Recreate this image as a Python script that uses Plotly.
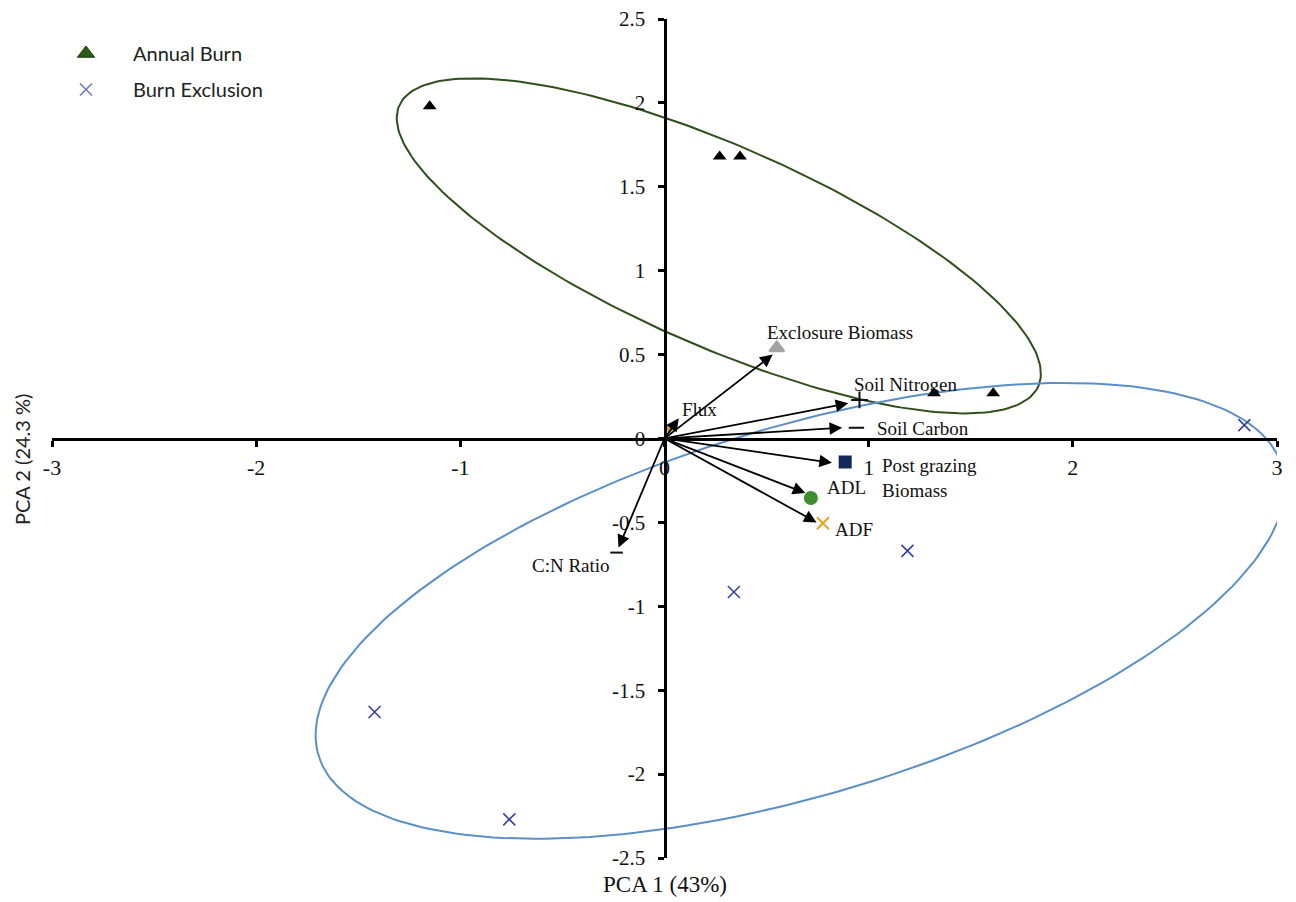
import numpy as np
import plotly.graph_objects as go

# ---------------- data ----------------
annual_x = [-1.15, 0.27, 0.37, 1.32, 1.61]
annual_y = [1.98, 1.68, 1.68, 0.27, 0.27]

exclusion_x = [2.84, 1.19, 0.34, -1.42, -0.76]
exclusion_y = [0.08, -0.67, -0.915, -1.63, -2.27]

vec_names = ["Exclosure Biomass", "Soil Nitrogen", "Soil Carbon", "Post grazing<br>Biomass",
             "ADL", "ADF", "Flux", "C:N Ratio"]
vec_tip_x = [0.53, 0.90, 0.87, 0.82, 0.69, 0.745, 0.07, -0.225]
vec_tip_y = [0.50, 0.21, 0.064, -0.145, -0.325, -0.50, 0.12, -0.65]
vec_mark_x = [0.55, 0.955, 0.94, 0.885, 0.717, 0.776, 0.03, -0.235]
vec_mark_y = [0.54, 0.23, 0.064, -0.14, -0.355, -0.505, 0.06, -0.68]
vec_label_x = [0.494, 0.919, 1.032, 1.057, 0.787, 0.826, 0.077, -0.256]
vec_label_y = [0.63, 0.32, 0.058, -0.234, -0.294, -0.54, 0.171, -0.754]
vec_label_anchor = ["left", "left", "left", "left", "left", "left", "left", "right"]
vec_symbols = ["triangle-up", "cross-thin-open", "line-ew-open", "square", "circle",
               "x-thin-open", "diamond", "line-ew-open"]
vec_colors = ["#a3a3a3", "#111111", "#111111", "#14285a", "#3d8f2c", "#e8a21e", "#d6a51c", "#111111"]
vec_sizes = [13, 12, 11, 11, 12, 12, 7, 9]

x_ticks = [-3, -2, -1, 0, 1, 2, 3]
x_ticktext = ["-3", "-2", "-1", "0", "1", "2", "3"]
y_ticks = [2.5, 2, 1.5, 1, 0.5, 0, -0.5, -1, -1.5, -2, -2.5]
y_ticktext = ["2.5", "2", "1.5", "1", "0.5", "0", "-0.5", "-1", "-1.5", "-2", "-2.5"]

# ellipses: centre (data units), semi-axes (screen px), tilt (deg, counter-clockwise)
ell_annual = dict(cx=0.266, cy=1.148, a=349, b=100, angle=-23.7)
ell_exclusion = dict(cx=0.665, cy=-1.027, a=503, b=184, angle=16.7)

# ---------------- layout geometry ----------------
OFF = 8  # default page margin around the plot div
W, H = 1296 - OFF, 902 - OFF
ML, MR, MT, MB = 52 - OFF, 19, 19 - OFF, 44
X_RANGE = [-3, 3]
Y_RANGE = [-2.5, 2.5]
PW, PH = W - ML - MR, H - MT - MB
sx = PW / (X_RANGE[1] - X_RANGE[0])
sy = PH / (Y_RANGE[1] - Y_RANGE[0])


def px_x(p):  # page pixel -> plot paper fraction
    return (p - OFF - ML) / PW


def px_y(p):
    return (H - MB - (p - OFF)) / PH


def ellipse_path(p, n=240):
    t = np.linspace(0, 2 * np.pi, n)
    th = np.deg2rad(p["angle"])
    u = p["a"] * np.cos(t)
    v = p["b"] * np.sin(t)
    X = u * np.cos(th) - v * np.sin(th)
    Y = u * np.sin(th) + v * np.cos(th)
    return p["cx"] + X / sx, p["cy"] + Y / sy


fig = go.Figure()

ex, ey = ellipse_path(ell_annual)
fig.add_trace(go.Scatter(x=ex, y=ey, mode="lines", line=dict(color="#2f4f1c", width=2),
                         showlegend=False, hoverinfo="skip"))
ex, ey = ellipse_path(ell_exclusion)
fig.add_trace(go.Scatter(x=ex, y=ey, mode="lines", line=dict(color="#5b8fc8", width=2),
                         showlegend=False, hoverinfo="skip"))

# loading markers
for i in range(len(vec_names)):
    fig.add_trace(go.Scatter(
        x=[vec_mark_x[i]], y=[vec_mark_y[i]], mode="markers",
        marker=dict(symbol=vec_symbols[i], color=vec_colors[i], size=vec_sizes[i],
                    line=dict(color=vec_colors[i], width=2)),
        showlegend=False, hoverinfo="skip"))

# samples
fig.add_trace(go.Scatter(x=annual_x, y=annual_y, mode="markers",
                         marker=dict(symbol="triangle-up", color="#000000", size=12),
                         showlegend=False))
fig.add_trace(go.Scatter(x=exclusion_x, y=exclusion_y, mode="markers",
                         marker=dict(symbol="x-thin-open", size=12, color="#34439a",
                                     line=dict(color="#34439a", width=1.6)),
                         showlegend=False))

# legend entries
fig.add_trace(go.Scatter(x=[None], y=[None], mode="markers", name="Annual Burn",
                         legendgroup="a",
                         marker=dict(symbol="triangle-up", color="#2b5e14", size=15,
                                     line=dict(color="#1d3f0c", width=1))))
fig.add_trace(go.Scatter(x=[None], y=[None], mode="markers", name="Burn Exclusion",
                         legendgroup="b",
                         marker=dict(symbol="x-thin-open", size=12, color="#6b7cbc",
                                     line=dict(color="#6b7cbc", width=1.6))))

annotations = []
for i in range(len(vec_names)):
    annotations.append(dict(
        x=vec_tip_x[i], y=vec_tip_y[i], ax=0, ay=0, xref="x", yref="y", axref="x", ayref="y",
        text="", showarrow=True, arrowhead=2, arrowsize=1.4, arrowwidth=1.8,
        arrowcolor="#000000", standoff=0, startstandoff=0))
    annotations.append(dict(
        x=vec_label_x[i], y=vec_label_y[i], xref="x", yref="y", text=vec_names[i],
        showarrow=False, xanchor=vec_label_anchor[i], yanchor="middle", align="left",
        font=dict(family="Liberation Serif", size=19, color="#111111")))

annotations.append(dict(x=0, y=px_y(884), xref="x", yref="paper",
                        text="PCA 1 (43%)", showarrow=False, xanchor="center", yanchor="middle",
                        font=dict(family="Liberation Serif", size=23, color="#111111")))
annotations.append(dict(x=px_x(22), y=px_y(460), xref="paper", yref="paper",
                        text="PCA 2 (24.3 %)", showarrow=False, textangle=-90,
                        xanchor="center", yanchor="middle",
                        font=dict(family="Lato", size=20, color="#222222")))

fig.update_layout(
    width=W, height=H,
    margin=dict(l=ML, r=MR, t=MT, b=MB, autoexpand=False),
    paper_bgcolor="white", plot_bgcolor="white",
    showlegend=True,
    legend=dict(x=px_x(39), y=px_y(34),
                xanchor="left", yanchor="top", font=dict(family="Lato", size=20, color="#222222"),
                bgcolor="rgba(0,0,0,0)", tracegroupgap=7, traceorder="grouped", itemwidth=84),
    xaxis=dict(range=X_RANGE, domain=[0, 1], anchor="free", position=0.5,
               showline=True, linecolor="black", linewidth=3, zeroline=False, showgrid=False,
               ticks="outside", ticklen=6, tickwidth=3, tickcolor="black",
               tickvals=x_ticks, ticktext=x_ticktext, ticklabelstandoff=2,
               ticklabeloverflow="allow",
               tickfont=dict(family="Liberation Serif", size=22, color="#111111")),
    yaxis=dict(range=Y_RANGE, domain=[0, 1], anchor="free", position=0.5,
               showline=True, linecolor="black", linewidth=3, zeroline=False, showgrid=False,
               ticks="outside", ticklen=6, tickwidth=3, tickcolor="black",
               tickvals=y_ticks, ticktext=y_ticktext, ticklabelstandoff=8,
               ticklabeloverflow="allow",
               tickfont=dict(family="Liberation Serif", size=21, color="#111111")),
    annotations=annotations,
)

fig.write_html("out.html")
